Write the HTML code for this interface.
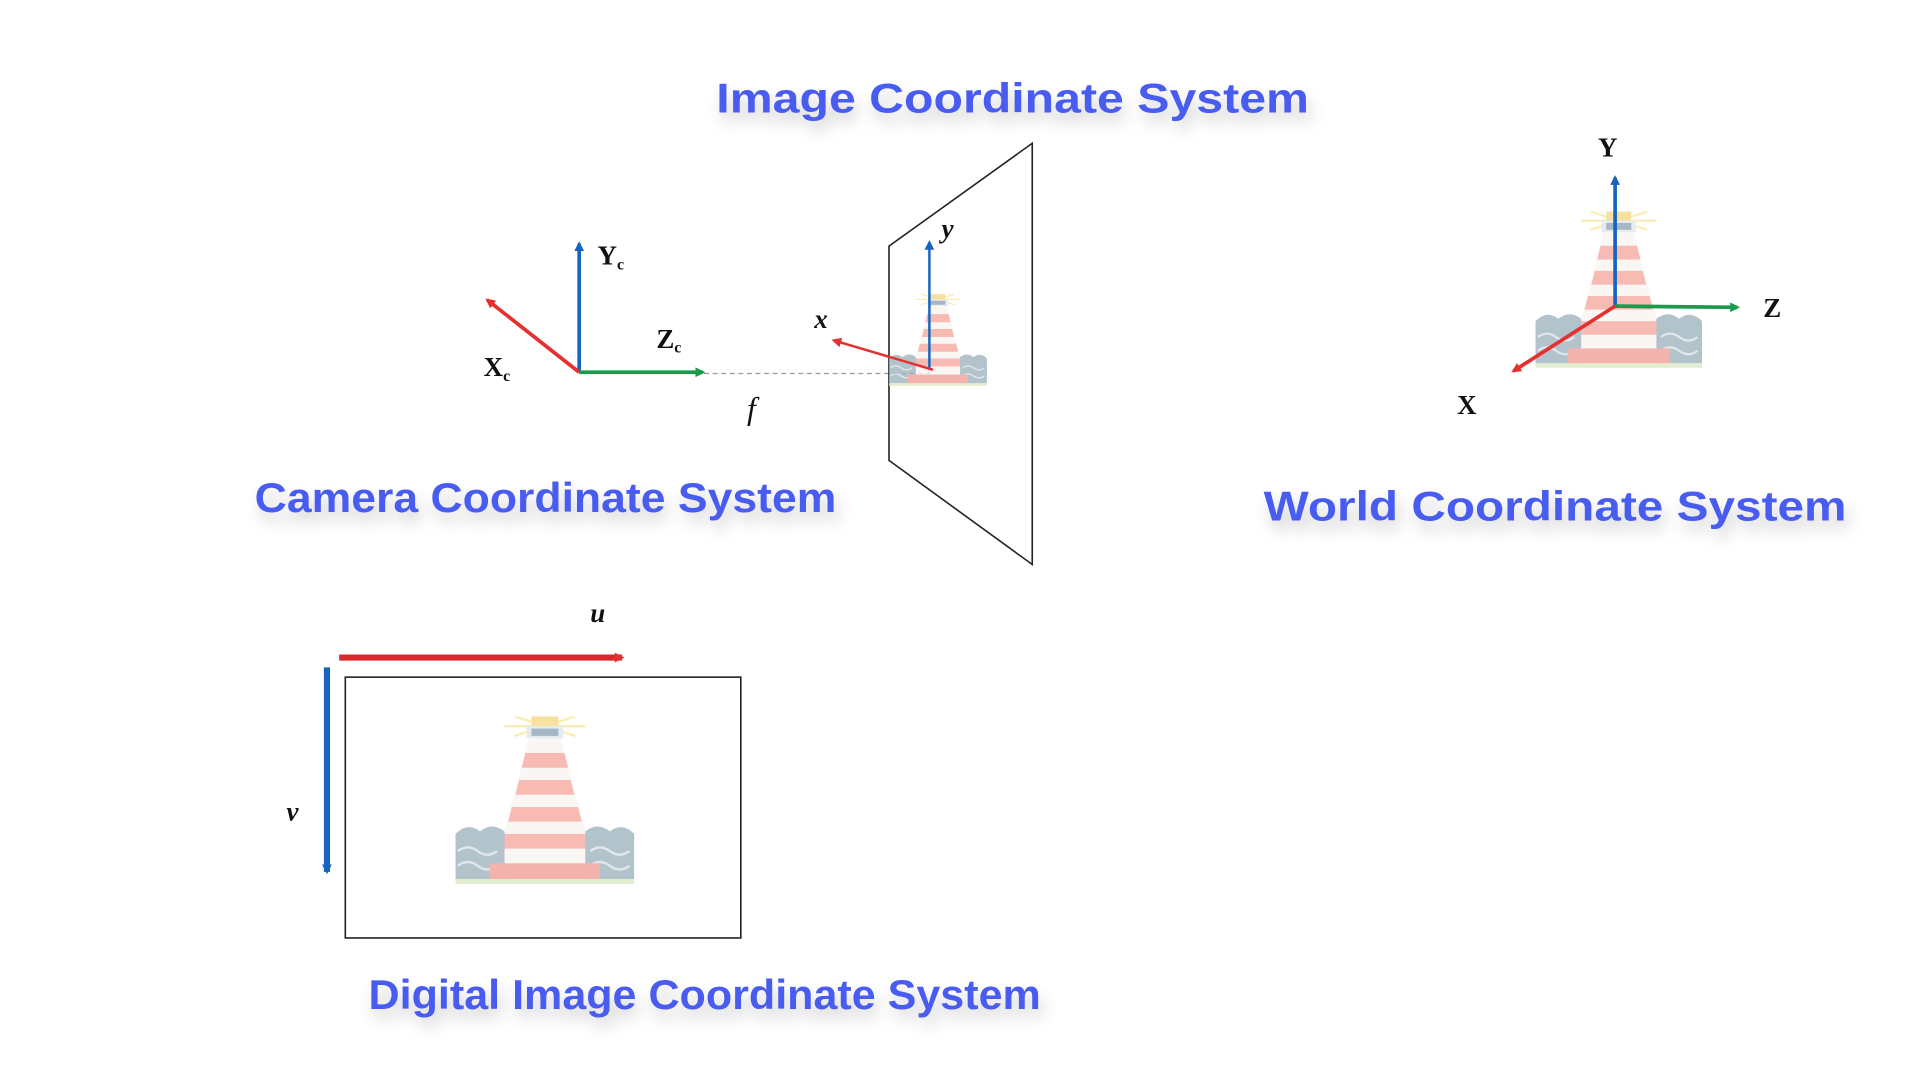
<!DOCTYPE html>
<html><head><meta charset="utf-8"><style>html,body{margin:0;padding:0;background:#fff;}svg{display:block}</style></head>
<body>
<svg width="1920" height="1080" viewBox="0 0 1568 882" preserveAspectRatio="none" xmlns="http://www.w3.org/2000/svg">
<defs>
<filter id="sh" x="-10%" y="-50%" width="120%" height="220%"><feDropShadow dx="3" dy="8" stdDeviation="6" flood-color="#000" flood-opacity="0.18"/></filter>
<marker id="ab" markerWidth="8" markerHeight="8" refX="6" refY="4" orient="auto" markerUnits="userSpaceOnUse"><path d="M0,0 L8,4 L0,8 z" fill="#1565c0"/></marker>
<marker id="ar" markerWidth="8" markerHeight="8" refX="6" refY="4" orient="auto" markerUnits="userSpaceOnUse"><path d="M0,0 L8,4 L0,8 z" fill="#e53030"/></marker>
<marker id="ag" markerWidth="8" markerHeight="8" refX="6" refY="4" orient="auto" markerUnits="userSpaceOnUse"><path d="M0,0 L8,4 L0,8 z" fill="#1a9a4a"/></marker>
<symbol id="lh" viewBox="0 0 146 140">
<g opacity="0.8">
<path d="M40,8 L106,8 M48,0 L98,16 M48,16 L98,0" stroke="#fbe9a0" stroke-width="2"/>
<rect x="62" y="0" width="22" height="8" fill="#f7d98a"/>
<rect x="58" y="8" width="30" height="10" fill="#dfe6ee"/>
<rect x="62" y="10" width="22" height="6" fill="#8fa6ba"/>
<path d="M60,18 L86,18 L113,120 L33,120 Z" fill="#f8f4f2"/>
<path d="M57,30 L89,30 L92,42 L54,42 Z M52,52 L94,52 L97,64 L49,64 Z M46,74 L100,74 L103,86 L43,86 Z M40,96 L106,96 L109,108 L37,108 Z" fill="#f5aaa2"/>
<path d="M0,96 Q10,86 20,94 Q30,86 40,94 L40,133 L0,133 Z" fill="#9fb4c0"/>
<path d="M106,94 Q116,86 126,94 Q136,86 146,96 L146,133 L106,133 Z" fill="#9fb4c0"/>
<path d="M2,110 q8,-6 16,0 t16,0 M2,122 q8,-6 16,0 t16,0 M110,110 q8,-6 16,0 t16,0 M110,122 q8,-6 16,0 t16,0" stroke="#d8e2e8" stroke-width="2" fill="none"/>
<rect x="28" y="120" width="90" height="13" fill="#f1a099"/>
<rect x="0" y="133" width="146" height="4" fill="#dde9c4"/>
</g>
</symbol>
</defs>

<g font-family="Liberation Sans, sans-serif" font-weight="bold" font-size="34" fill="#4a5cf0" filter="url(#sh)">
<text x="585" y="92" textLength="484" lengthAdjust="spacingAndGlyphs">Image Coordinate System</text>
<text x="208" y="418" textLength="475" lengthAdjust="spacingAndGlyphs">Camera Coordinate System</text>
<text x="1032" y="425" textLength="476" lengthAdjust="spacingAndGlyphs">World Coordinate System</text>
<text x="301" y="824" textLength="549" lengthAdjust="spacingAndGlyphs">Digital Image Coordinate System</text>
</g>

<line x1="575" y1="305" x2="760" y2="305" stroke="#999" stroke-width="1" stroke-dasharray="4,3"/>
<line x1="473" y1="304" x2="473" y2="199" stroke="#1565c0" stroke-width="3" marker-end="url(#ab)"/>
<line x1="473" y1="304" x2="398" y2="245" stroke="#e53030" stroke-width="3" marker-end="url(#ar)"/>
<line x1="473" y1="304" x2="574" y2="304" stroke="#1a9a4a" stroke-width="3" marker-end="url(#ag)"/>
<g font-family="Liberation Serif, serif" font-weight="bold" font-size="22" fill="#111">
<text x="488" y="216">Y<tspan font-size="13" dy="4">c</tspan></text>
<text x="395" y="307">X<tspan font-size="13" dy="4">c</tspan></text>
<text x="536" y="284">Z<tspan font-size="13" dy="4">c</tspan></text>
<text x="610" y="342" font-style="italic" font-weight="normal" font-size="26">f</text>
<text x="665" y="268" font-style="italic" font-size="22">x</text>
<text x="769" y="194" font-style="italic" font-size="22">y</text>
</g>

<polygon points="726,201 843,117 843,461 726,376" fill="none" stroke="#222" stroke-width="1.3"/>
<use href="#lh" x="726" y="240" width="80" height="77"/>
<line x1="759" y1="302" x2="759" y2="198" stroke="#1565c0" stroke-width="2" marker-end="url(#ab)"/>
<line x1="762" y1="302" x2="681" y2="278" stroke="#e53030" stroke-width="2" marker-end="url(#ar)"/>

<use href="#lh" x="1254" y="172" width="136" height="132"/>
<line x1="1319" y1="250" x2="1319" y2="145" stroke="#1565c0" stroke-width="3" marker-end="url(#ab)"/>
<line x1="1319" y1="250" x2="1419" y2="251" stroke="#1a9a4a" stroke-width="3" marker-end="url(#ag)"/>
<line x1="1319" y1="250" x2="1236" y2="303" stroke="#e53030" stroke-width="3" marker-end="url(#ar)"/>
<g font-family="Liberation Serif, serif" font-weight="bold" font-size="22" fill="#111">
<text x="1305" y="128">Y</text>
<text x="1440" y="259">Z</text>
<text x="1190" y="338">X</text>
</g>

<rect x="282" y="553" width="323" height="213" fill="none" stroke="#222" stroke-width="1.3"/>
<use href="#lh" x="372" y="585" width="146" height="140"/>
<line x1="277" y1="537" x2="508" y2="537" stroke="#d82a2a" stroke-width="5" marker-end="url(#ar)"/>
<line x1="267" y1="545" x2="267" y2="712" stroke="#1565c0" stroke-width="5" marker-end="url(#ab)"/>
<g font-family="Liberation Serif, serif" font-style="italic" font-weight="bold" font-size="22" fill="#111">
<text x="482" y="508">u</text>
<text x="234" y="670">v</text>
</g>
</svg>
</body></html>
